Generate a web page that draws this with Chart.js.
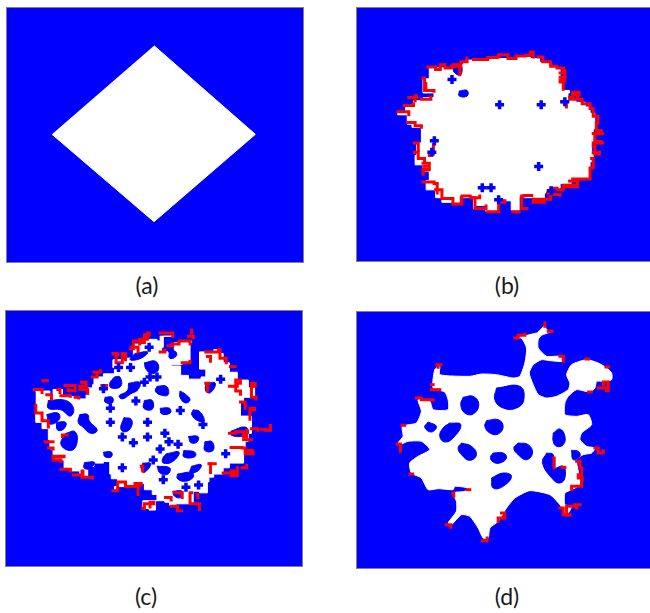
<!DOCTYPE html>
<html>
<head>
<meta charset="utf-8">
<script src="https://cdn.jsdelivr.net/npm/chart.js@4"></script>
<style>
  body { margin: 0; background: #fff; width: 650px; height: 613px; overflow: hidden; position: relative; }
  canvas { position: absolute; background: #0000ff; outline: 1px solid #808080; filter: blur(0.35px); }
  .lbl { position: absolute; font: 23px Lato, sans-serif; color: #1a1a1a; transform: translateX(-50%); }
</style>
</head>
<body>
<script>
let panelLabels = ["(a)", "(b)", "(c)", "(d)"];

let blobA = [[461,137],[765,403],[461,665],[155,403]];

let blobB = [[340,165],[375,165],[410,163],[440,160],[470,162],[500,155],[530,152],[545,160],[575,172],[605,185],[630,195],[640,215],[640,240],[650,262],[670,270],[665,295],[690,300],[720,315],[735,335],[750,365],[755,385],[745,405],[750,430],[740,460],[745,490],[735,520],[735,545],[700,548],[675,560],[640,575],[610,590],[590,610],[555,605],[525,600],[510,610],[510,645],[490,645],[485,615],[465,610],[445,630],[445,650],[410,650],[405,630],[370,640],[365,605],[330,600],[320,625],[300,620],[265,605],[245,580],[215,550],[225,520],[205,500],[180,470],[185,430],[200,415],[200,380],[170,370],[155,340],[125,330],[150,310],[175,295],[205,285],[240,270],[205,250],[205,225],[225,205],[225,190],[260,190],[290,190],[300,205],[325,185]];
let holesB = [
  [[320,264],[345,262],[345,280],[320,280]],
  [[300,185],[325,180],[325,212],[305,205]]
];
let plusB = [[448,308],[580,308],[572,505],[393,573],[421,573],[241,423],[233,460],[297,227],[445,612],[655,298],[612,583]];
let redB = [
  [[220,187],[245,195],[260,180],[275,190],[295,185],[325,170],[345,158]],
  [[365,163],[410,157],[440,155],[445,148],[475,160],[500,152],[530,150],[545,140],[555,155]],
  [[570,155],[585,170],[610,185],[630,190],[650,200],[655,230],[640,235],[650,258]],
  [[670,285],[680,268],[705,268],[695,290],[710,305],[735,320],[745,345],[760,365],[755,390],[770,400],[750,425],[770,430]],
  [[745,440],[750,465],[765,460]],
  [[740,480],[745,510],[735,545],[695,548],[680,545],[695,565],[650,580],[630,575],[610,595],[640,597]],
  [[600,590],[610,610],[560,610],[555,620],[590,620]],
  [[550,598],[525,600],[518,640],[535,640]],
  [[490,650],[510,650]],
  [[445,620],[465,615],[445,650],[410,650]],
  [[365,605],[370,640],[405,632]],
  [[330,600],[355,605],[385,600]],
  [[300,625],[320,625],[328,602]],
  [[245,580],[265,608],[300,620]],
  [[205,555],[240,560],[250,590]],
  [[205,495],[225,515],[205,530]],
  [[178,460],[190,480],[210,490]],
  [[240,435],[238,465],[225,470]],
  [[178,430],[190,455]],
  [[158,365],[180,375],[200,380]],
  [[125,330],[160,340]],
  [[145,310],[175,305]],
  [[160,285],[185,280],[180,295]],
  [[205,222],[210,262],[240,265]],
  [[200,290],[230,283]],
  [[300,180],[322,180],[322,212]],
  [[645,298],[660,315]],
  [[214,240],[214,262]],
  [[670,552],[695,552]],
  [[650,570],[695,562]],
  [[208,505],[222,505]],
  [[208,516],[222,516]],
  [[680,276],[700,276]],
  [[672,290],[690,290]],
  [[640,206],[655,206]],
  [[640,220],[655,220]],
  [[745,400],[775,400]],
  [[745,430],[775,430]],
  [[745,462],[765,462]]
];

let blobC = [[85,250],[110,250],[130,262],[140,245],[170,265],[200,268],[215,275],[245,262],[250,240],[265,230],[270,205],[300,195],[335,175],[330,150],[375,145],[395,130],[395,100],[430,85],[470,90],[480,75],[520,75],[490,110],[485,125],[505,130],[525,95],[580,90],[575,155],[550,165],[515,160],[515,170],[545,200],[570,212],[610,205],[625,180],[605,155],[605,125],[650,118],[670,130],[680,160],[700,190],[725,215],[760,240],[780,270],[745,285],[735,330],[770,345],[770,385],[760,410],[750,450],[745,480],[700,495],[680,515],[650,525],[635,540],[630,575],[605,570],[585,610],[560,610],[530,615],[510,605],[495,600],[465,615],[465,630],[445,625],[425,615],[425,600],[470,580],[455,565],[430,545],[400,555],[350,555],[335,565],[345,530],[325,515],[320,475],[300,480],[270,490],[250,520],[225,505],[200,500],[175,470],[150,465],[140,435],[130,405],[125,370],[105,350],[85,320]];
let holesC = [
  [[430,160],[465,155],[475,180],[455,195],[435,180]],
  [[335,205],[352,205],[355,235],[325,240],[320,225]],
  [[380,225],[415,222],[410,245],[385,260],[360,275],[350,265],[375,250]],
  [[470,235],[500,235],[505,262],[480,262],[465,250]],
  [[543,250],[560,260],[575,278],[560,288],[543,270]],
  [[305,270],[328,270],[328,288],[305,285]],
  [[430,280],[455,280],[455,308],[428,305]],
  [[480,305],[510,305],[512,320],[485,323]],
  [[585,310],[605,315],[620,345],[600,345],[580,325]],
  [[365,335],[388,340],[388,365],[370,380],[355,370]],
  [[225,325],[250,325],[255,345],[280,375],[260,385],[235,365],[220,350]],
  [[125,280],[180,280],[205,305],[195,330],[165,310],[125,305]],
  [[120,325],[155,320],[160,340],[130,355]],
  [[150,350],[180,350],[175,370],[155,375]],
  [[180,385],[210,380],[215,420],[195,440],[165,420]],
  [[300,445],[325,445],[325,460],[305,460]],
  [[570,395],[600,395],[598,412],[578,415]],
  [[622,412],[645,412],[648,440],[622,440]],
  [[555,440],[590,445],[590,460],[555,460]],
  [[500,450],[540,445],[520,475],[490,480],[488,465]],
  [[425,480],[450,482],[430,510],[420,500]],
  [[470,490],[510,495],[505,515],[480,512]],
  [[580,490],[610,485],[600,505],[575,510]],
  [[535,515],[580,510],[585,525],[560,538],[535,530]],
  [[520,570],[550,570],[545,590],[525,585]],
  [[705,378],[750,365],[760,385],[735,395],[705,390]],
  [[625,225],[655,225],[640,255],[625,250]],
  [[400,130],[440,125],[420,145],[385,150]],
  [[510,120],[530,125],[530,140],[510,145]],
  [[240,478],[272,478],[255,498],[238,495]]
];
let plusC = [[348,175],[386,175],[322,305],[403,282],[322,350],[440,350],[360,397],[440,397],[544,312],[616,357],[508,412],[537,420],[480,435],[672,212],[688,450],[360,495],[490,533],[458,470],[602,550],[562,557],[300,243],[445,110],[395,415],[470,205],[448,205],[430,222],[495,385]];
let redC = [
  [[80,245],[105,245],[105,255]],
  [[108,217],[122,217]],
  [[120,262],[135,262],[135,275]],
  [[155,245],[162,255]],
  [[178,232],[205,232],[210,248],[188,245]],
  [[165,265],[195,267]],
  [[230,222],[245,235],[225,245],[250,258]],
  [[210,270],[222,272]],
  [[270,190],[290,185]],
  [[265,205],[280,195]],
  [[295,232],[310,240]],
  [[330,130],[345,135],[340,160],[360,130],[370,150]],
  [[385,115],[395,90],[420,95],[430,70],[445,65],[440,85],[415,100]],
  [[390,110],[410,125]],
  [[480,65],[520,65],[520,75]],
  [[480,125],[495,120]],
  [[505,105],[520,100],[540,90],[580,90],[575,100]],
  [[580,55],[580,65]],
  [[570,75],[585,80]],
  [[550,160],[575,155]],
  [[625,125],[665,118],[670,145],[690,160]],
  [[630,140],[640,155]],
  [[703,172],[718,172]],
  [[625,225],[640,225],[630,250]],
  [[700,235],[725,225],[735,215],[720,250],[735,260]],
  [[770,225],[782,235],[770,270],[785,275]],
  [[735,285],[750,290],[750,305]],
  [[765,310],[780,305],[765,340]],
  [[770,370],[790,375]],
  [[800,372],[815,375],[830,360]],
  [[700,385],[720,380],[745,395],[755,375]],
  [[745,405],[770,405]],
  [[705,430],[740,432],[750,450]],
  [[760,440],[778,440],[775,450],[760,450]],
  [[635,482],[655,482]],
  [[640,482],[640,510]],
  [[680,512],[715,505],[705,520],[725,495]],
  [[740,495],[755,487]],
  [[150,460],[175,458],[140,470],[165,475]],
  [[115,412],[140,412]],
  [[125,432],[140,435]],
  [[185,390],[170,395]],
  [[85,295],[85,320],[105,345]],
  [[110,345],[125,365]],
  [[165,500],[195,505]],
  [[205,518],[235,505],[232,525],[265,528]],
  [[330,568],[345,540],[370,555],[410,560],[410,580]],
  [[400,545],[420,550]],
  [[420,490],[425,505]],
  [[425,625],[430,610],[460,605],[448,620]],
  [[515,618],[535,632],[548,632]],
  [[497,590],[515,598]],
  [[525,575],[550,590]],
  [[580,575],[575,610],[605,628]],
  [[598,580],[600,590]]
];

let blobD = [[585,60],[590,75],[605,80],[575,92],[565,105],[565,130],[590,155],[630,155],[640,170],[600,168],[575,165],[550,180],[538,205],[550,240],[565,270],[590,280],[620,275],[655,255],[660,235],[650,210],[665,180],[710,165],[745,175],[770,190],[785,205],[785,225],[760,230],[740,230],[735,250],[720,262],[680,255],[655,275],[645,295],[645,330],[680,335],[715,330],[725,360],[695,385],[690,405],[710,425],[735,430],[725,445],[700,450],[680,465],[685,500],[690,540],[665,555],[645,565],[645,600],[665,605],[650,630],[630,600],[600,570],[540,558],[495,580],[470,610],[445,650],[420,670],[415,700],[400,700],[385,670],[360,635],[335,630],[305,660],[295,655],[320,620],[320,590],[310,565],[345,560],[355,550],[315,545],[310,555],[265,552],[235,555],[215,520],[185,505],[180,475],[205,455],[240,435],[215,410],[175,410],[150,420],[145,415],[160,395],[158,365],[200,355],[215,320],[205,285],[240,290],[250,315],[295,315],[295,285],[285,262],[250,250],[255,195],[270,185],[270,210],[360,215],[395,208],[440,210],[490,220],[510,215],[525,175],[530,130],[515,100],[500,100],[560,85]];
let holesD = [
  [[440,250],[510,245],[522,285],[500,310],[460,310],[435,285]],
  [[340,278],[370,275],[387,300],[370,328],[345,325],[333,300]],
  [[410,348],[445,345],[460,365],[445,388],[420,385],[405,365]],
  [[235,352],[260,365],[245,382],[225,368]],
  [[300,355],[333,360],[310,400],[285,412],[270,395],[280,370]],
  [[335,415],[365,425],[380,450],[360,467],[335,450],[325,430]],
  [[505,415],[535,420],[548,445],[530,465],[505,450],[492,430]],
  [[430,445],[460,445],[470,460],[450,475],[430,472],[422,458]],
  [[610,385],[630,373],[645,395],[640,420],[620,425],[610,410]],
  [[590,445],[610,450],[610,490],[640,485],[645,520],[630,535],[610,525],[578,475]],
  [[425,520],[460,505],[485,515],[460,545],[430,550]],
  [[665,437],[685,440],[690,455],[670,465]]
];
let redD = [
  [[585,55],[585,65]],
  [[595,80],[607,80]],
  [[495,100],[505,92],[525,88]],
  [[630,155],[640,170]],
  [[708,163],[716,163]],
  [[768,187],[776,187]],
  [[262,180],[278,180],[265,188]],
  [[245,240],[250,240]],
  [[245,255],[270,255]],
  [[200,280],[215,285],[250,287]],
  [[157,362],[165,362]],
  [[143,418],[152,440]],
  [[181,508],[189,508]],
  [[310,565],[312,575]],
  [[352,555],[360,555]],
  [[290,660],[303,668]],
  [[398,708],[412,700]],
  [[455,625],[465,640],[445,650]],
  [[612,460],[613,490]],
  [[637,488],[645,488]],
  [[735,430],[745,445],[760,438]],
  [[680,470],[690,490],[695,510],[685,520],[697,525],[695,545],[665,555]],
  [[630,610],[640,630],[660,632],[650,605],[675,600],[695,600],[680,610]],
  [[716,262],[724,262]],
  [[745,250],[770,258],[775,232],[760,240]]
];

function pts(list) {
  return list.map(p => ({ x: p[0], y: p[1] }));
}

function makePanel(cfg) {
  let c = document.createElement("canvas");
  c.width = cfg.w;
  c.height = cfg.h;
  c.style.left = cfg.left + "px";
  c.style.top = cfg.top + "px";
  document.body.appendChild(c);

  let sets = [{ data: pts(cfg.blob), showLine: true, fill: "shape", stepped: cfg.stepped, tension: cfg.bend || 0, backgroundColor: "#fff", borderColor: "#fff", borderWidth: 1, pointRadius: 0, order: 5 }];
  (cfg.holes || []).forEach(h => {
    sets.push({ data: pts(h.concat([h[0]])), showLine: true, fill: "shape", tension: 0.45, backgroundColor: "#0000ff", borderColor: "#0000ff", borderWidth: 1, pointRadius: 0, order: 4 });
  });
  (cfg.red || []).forEach(r => {
    sets.push({ data: pts(r), showLine: true, stepped: true, borderColor: "#ff0000", borderWidth: 3, borderCapStyle: "square", borderJoinStyle: "miter", pointRadius: 0, order: 3 });
  });
  if (cfg.plus) {
    sets.push({ data: pts(cfg.plus), showLine: false, pointStyle: "cross", pointRadius: 4.5, pointBorderColor: "#0000ff", pointBorderWidth: 3.5, order: 2 });
  }

  new Chart(c, {
    type: "scatter",
    data: { datasets: sets },
    options: {
      responsive: false,
      animation: false,
      devicePixelRatio: 1,
      layout: { padding: 0 },
      plugins: { legend: { display: false }, tooltip: { enabled: false } },
      scales: {
        x: { type: "linear", display: false, min: cfg.xr[0], max: cfg.xr[1] },
        y: { type: "linear", display: false, reverse: true, min: cfg.yr[0], max: cfg.yr[1] }
      }
    }
  });

  let l = document.createElement("div");
  l.className = "lbl";
  l.textContent = cfg.label;
  l.style.left = cfg.lx + "px";
  l.style.top = cfg.ly + "px";
  document.body.appendChild(l);
}

makePanel({ label: panelLabels[0], left: 7, top: 8, w: 296, h: 254, xr: [20, 908], yr: [24, 786], blob: blobA, lx: 147, ly: 271 });
makePanel({ label: panelLabels[1], left: 357, top: 8, w: 294, h: 253, xr: [21, 903], yr: [24, 782], blob: blobB, holes: holesB, plus: plusB, red: redB, stepped: true, lx: 507, ly: 271 });
makePanel({ label: panelLabels[2], left: 6, top: 311, w: 296, h: 255, xr: [16, 905], yr: [20, 783], blob: blobC, holes: holesC, plus: plusC, red: redC, stepped: true, lx: 146, ly: 582 });
makePanel({ label: panelLabels[3], left: 357, top: 312, w: 294, h: 256, xr: [22, 903], yr: [22, 790], blob: blobD, holes: holesD, red: redD, bend: 0.2, lx: 507, ly: 582 });
</script>
</body>
</html>
